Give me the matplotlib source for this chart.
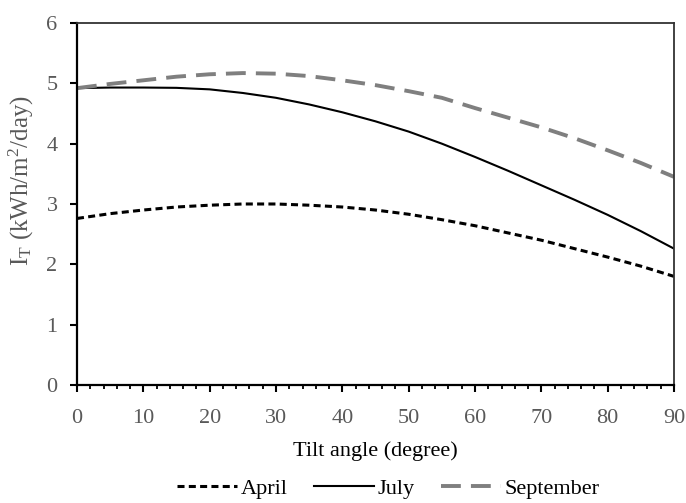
import numpy as np
import matplotlib
matplotlib.use('Agg')
import matplotlib.pyplot as plt

plt.rcParams['font.family'] = 'Liberation Serif'
plt.rcParams['mathtext.fontset'] = 'custom'
plt.rcParams['mathtext.rm'] = 'Liberation Serif'
plt.rcParams['mathtext.it'] = 'Liberation Serif:italic'

# tilt angle (degree) and daily radiation on the tilted surface
tilt = [0, 5, 10, 15, 20, 25, 30, 35, 40, 45, 50, 55, 60, 65, 70, 75, 80, 85, 90]
april = [2.76, 2.84, 2.90, 2.95, 2.98, 3.00, 3.00, 2.98, 2.95, 2.90, 2.83,
         2.74, 2.64, 2.52, 2.40, 2.26, 2.12, 1.97, 1.80]
july = [4.92, 4.93, 4.93, 4.925, 4.90, 4.84, 4.76, 4.65, 4.52, 4.37, 4.20,
        4.00, 3.78, 3.55, 3.31, 3.07, 2.82, 2.55, 2.26]
september = [4.92, 4.99, 5.05, 5.11, 5.15, 5.17, 5.16, 5.12, 5.05, 4.97, 4.87,
             4.76, 4.59, 4.43, 4.27, 4.09, 3.89, 3.68, 3.45]

gray_txt = '#595959'
fs = 16

fig = plt.figure(figsize=(6.86, 5.03), dpi=100)
ax = fig.add_axes([0.1122, 0.2346, 0.8703, 0.7197])

ax.plot(tilt, april, color='black', lw=2.2, dashes=(2.3, 1.4), label='April')
ax.plot(tilt, july, color='black', lw=1.5, label='July')
ax.plot(tilt, september, color='#7f7f7f', lw=2.8, dashes=(5.1, 2.6), label='September')

ax.set_xlim(0, 90)
ax.set_ylim(0, 6)
ax.set_xticks(np.arange(0, 91, 10))
ax.set_xticks(np.arange(0, 91, 2), minor=True)
ax.set_yticks(np.arange(0, 7, 1))

for side in ['left', 'bottom']:
    ax.spines[side].set_linewidth(1.6)
for side in ['top', 'right']:
    ax.spines[side].set_linewidth(1.3)
    ax.spines[side].set_color('#333333')

ax.tick_params(axis='both', which='major', direction='out', length=5, width=1.5,
               labelsize=fs, labelcolor=gray_txt)
ax.tick_params(axis='y', which='major', pad=9)
ax.tick_params(axis='x', which='major', pad=12)
ax.tick_params(axis='x', which='minor', direction='out', length=3, width=1.3)

ax.set_xlabel('Tilt angle (degree)', fontsize=fs, color='black', labelpad=10)
ax.set_ylabel(r'I$_{\rm T}$ (kWh/m$^{2}$/day)', fontsize=18, color=gray_txt)
ax.yaxis.set_label_coords(-0.068, 0.565)

fig.legend(loc='lower center', bbox_to_anchor=(0.566, -0.031), ncol=3, frameon=False,
           fontsize=fs, handlelength=2.7, columnspacing=1.2, handletextpad=0.15)

fig.savefig('out.png', dpi=100)
